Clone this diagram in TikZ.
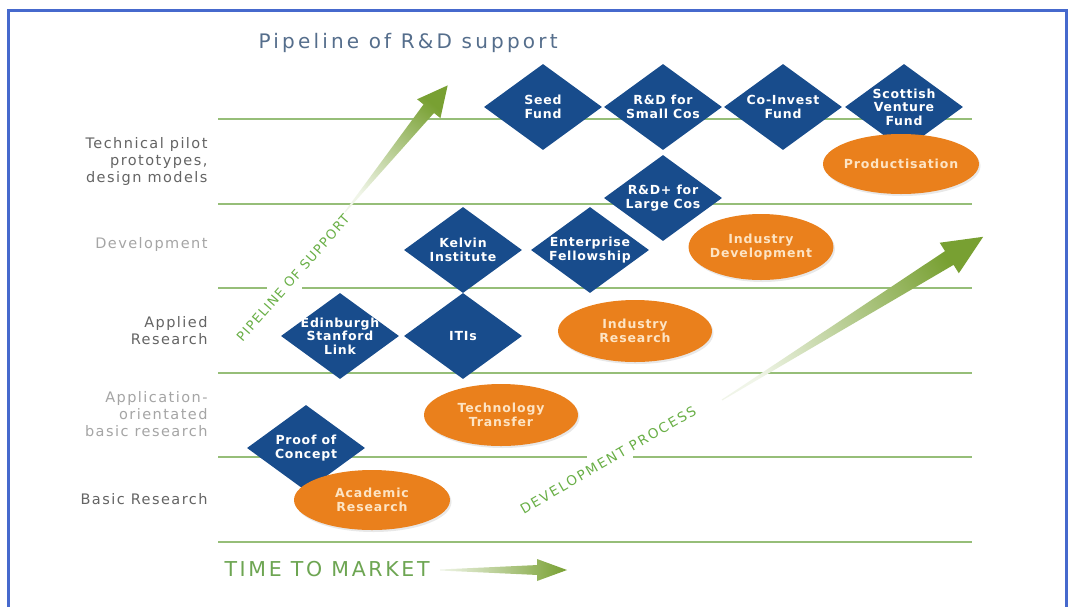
\documentclass[tikz,border=0pt]{standalone}
\usepackage{fontspec}
\setmainfont{DejaVu Sans}
\usetikzlibrary{shapes.geometric,shadows,positioning}

\definecolor{fundblue}{RGB}{24,76,140}
\definecolor{stageorange}{RGB}{234,128,28}
\definecolor{stagetext}{RGB}{253,228,196}
\definecolor{rulegreen}{RGB}{150,190,120}
\definecolor{labelgreen}{RGB}{105,175,70}
\definecolor{arrowdark}{RGB}{120,160,50}
\definecolor{arrowlight}{RGB}{240,245,232}
\definecolor{titleblue}{RGB}{85,110,140}
\definecolor{rowgrey}{RGB}{100,100,100}
\definecolor{rowlight}{RGB}{165,165,165}
\definecolor{frameblue}{RGB}{70,105,205}

% tapered shaded arrow: {tail}{angle}{length}{head length}{head half width}
\newcommand{\taperarrow}[5]{%
  \pgfmathsetmacro\shadeang{#2-90}
  \begin{scope}[shift={#1},rotate=#2]
    \shade[top color=arrowdark,bottom color=arrowlight,shading angle=\shadeang]
      (0,-0.5) -- (#3-#4,-0.45*#5) -- (#3-#4,-#5) -- (#3,0)
      -- (#3-#4,#5) -- (#3-#4,0.45*#5) -- (0,0.5) -- cycle;
  \end{scope}}

\begin{document}
\begin{tikzpicture}[x=1pt,y=-1pt,
    fund/.style={diamond,fill=fundblue,minimum width=118pt,minimum height=86pt,inner sep=0pt},
    fundtext/.style={text=white,align=center,
      font=\fontsize{12.5}{13.5}\selectfont\bfseries\addfontfeatures{LetterSpace=6}},
    stage/.style={ellipse,fill=stageorange,minimum width=154pt,minimum height=62pt,inner sep=0pt,
      drop shadow={opacity=0.18,shadow xshift=1.5pt,shadow yshift=-2pt},
      text=stagetext,align=center,
      font=\fontsize{12.5}{14}\selectfont\bfseries\addfontfeatures{LetterSpace=7}},
    rowlabel/.style={anchor=east,align=right,text=rowgrey,
      font=\fontsize{14.5}{17}\selectfont\addfontfeatures{LetterSpace=10}},
    arrowlabel/.style={text=labelgreen,font=\fontsize{13}{14}\selectfont\addfontfeatures{LetterSpace=10}},
    rule/.style={rulegreen,line width=1.3pt}]

  \useasboundingbox (0,0) rectangle (1074,606);
  \fill[white] (0,0) rectangle (1074,606);
  \draw[frameblue,line width=3pt] (8,620) -- (8,10) -- (1066,10) -- (1066,620);

  % title
  \node[anchor=base west,text=titleblue,font=\fontsize{20}{22}\selectfont\addfontfeatures{LetterSpace=16}]
    (title) at (255,48) {Pipeline of R\&D support};

  % stage rules
  \foreach \y in {119,204,373,542}
    \draw[rule] (218,\y) -- (972,\y);
  \draw[rule] (218,288) -- (267,288);
  \draw[rule] (302,288) -- (972,288);
  \draw[rule] (218,457) -- (587,457);
  \draw[rule] (633,457) -- (972,457);

  % row labels
  \node[rowlabel] (techlabel) at (211,161) {Technical pilot\\prototypes,\\design models};
  \node[rowlabel,text=rowlight] (devlabel) at (211,244) {Development};
  \node[rowlabel] (appliedlabel) at (211,331) {Applied\\Research};
  \node[rowlabel,text=rowlight] (orientlabel) at (211,414) {Application-\\orientated\\basic research};
  \node[rowlabel] (basiclabel) at (211,499) {Basic Research};

  % arrows
  \taperarrow{(345,212)}{50.96}{163}{30}{15}
  \taperarrow{(722,400)}{32}{308}{40}{18}
  \taperarrow{(440,570)}{0}{127}{30}{11}

  \node[arrowlabel,rotate=48.7] (pipetext) at (293,278) {PIPELINE OF SUPPORT};
  \node[arrowlabel,rotate=30.2,font=\fontsize{13.5}{14}\selectfont\addfontfeatures{LetterSpace=14}]
    (devtext) at (608,460) {DEVELOPMENT PROCESS};
  \node[anchor=west,text=labelgreen!80!gray,font=\fontsize{20.5}{24}\selectfont\addfontfeatures{LetterSpace=13}]
    (timetext) at (221,569) {TIME TO MARKET};

  % funding diamonds
  \node[fund] (seed) at (543,107) {};
  \node[fund] (smallcos) at (663,107) {};
  \node[fund] (coinvest) at (783,107) {};
  \node[fund] (venture) at (904,107) {};
  \node[fund] (largecos) at (663,198) {};
  \node[fund] (kelvin) at (463,250) {};
  \node[fund] (fellowship) at (590,250) {};
  \node[fund] (stanford) at (340,336) {};
  \node[fund] (itis) at (463,336) {};
  \node[fund] (proof) at (306,448) {};

  \node[fundtext] (seedlabel) at (seed) {Seed\\Fund};
  \node[fundtext] (smallcoslabel) at (smallcos) {R\&D for\\Small Cos};
  \node[fundtext] (coinvestlabel) at (coinvest) {Co-Invest\\Fund};
  \node[fundtext] (venturelabel) at (venture) {Scottish\\Venture\\Fund};
  \node[fundtext] (largecoslabel) at (largecos) {R\&D+ for\\Large Cos};
  \node[fundtext] (kelvinlabel) at (kelvin) {Kelvin\\Institute};
  \node[fundtext] (fellowshiplabel) at (fellowship) {Enterprise\\Fellowship};
  \node[fundtext] (stanfordlabel) at (stanford) {Edinburgh\\Stanford\\Link};
  \node[fundtext] (itislabel) at (itis) {ITIs};
  \node[fundtext] (prooflabel) at (proof) {Proof of\\Concept};

  % research stages
  \node[stage,minimum width=156pt,minimum height=60pt,inner xsep=-6pt] (product) at (901,164) {Productisation};
  \node[stage,minimum width=140pt,minimum height=66pt] (inddev) at (761,247) {Industry\\Development};
  \node[stage] (indres) at (635,331) {Industry\\Research};
  \node[stage] (techtrans) at (501,415) {Technology\\Transfer};
  \node[stage,minimum width=156pt,minimum height=60pt] (academic) at (372,500) {Academic\\Research};
\end{tikzpicture}
\end{document}
